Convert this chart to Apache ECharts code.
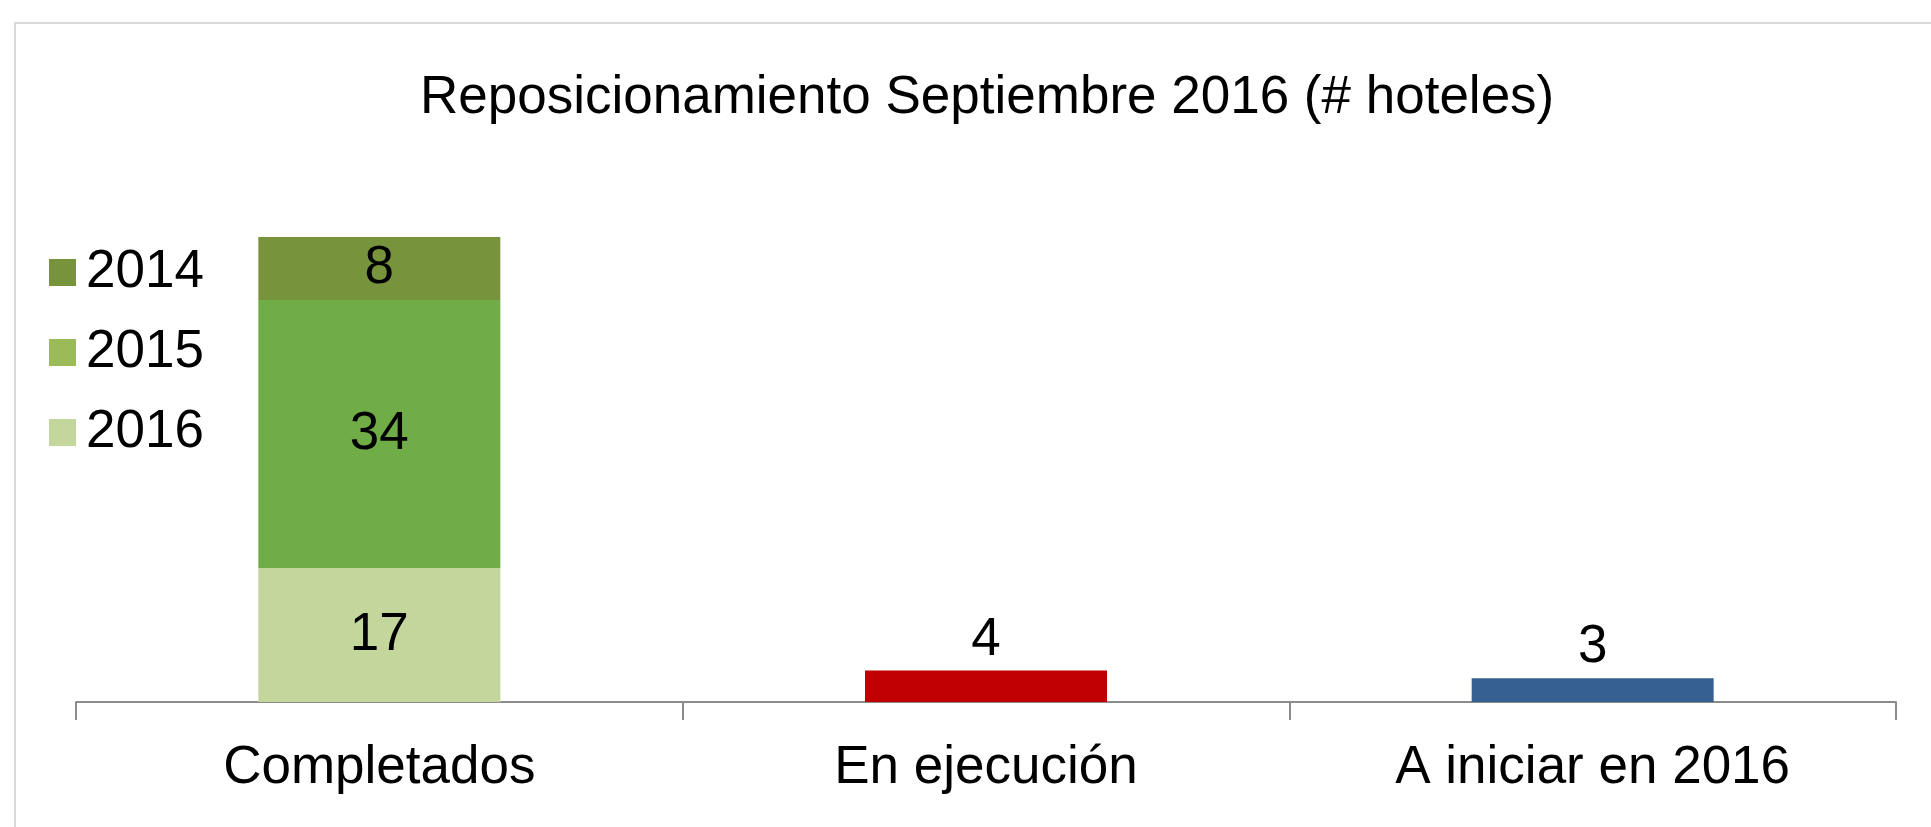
<!DOCTYPE html>
<html>
<head>
<meta charset="utf-8">
<script src="https://cdn.jsdelivr.net/npm/echarts@6/dist/echarts.min.js"></script>
<style>
html, body { margin: 0; padding: 0; background: #fff; }
#container { width: 1931px; height: 827px; }
</style>
</head>
<body>
<div id="container"></div>
<script>
var dom = document.getElementById("container");
var myChart = echarts.init(dom);

// datos
var categorias = ["Completados", "En ejecución", "A iniciar en 2016"];
var anios = ["2014", "2015", "2016"];
var coloresLeyenda = ['#77933c', '#9bbb59', '#c3d69b'];
var datos2016 = [17, '-', '-'];
var datos2015 = [34, '-', '-'];
var datos2014 = [8, '-', '-'];
var otros = ['-', 4, 3];
var coloresOtros = ['#c00000', '#c00000', '#376092'];

var fuente = 'Liberation Sans, Arial, sans-serif';
var tam = 53;

var etiquetaDentro = {
    show: true,
    position: 'inside',
    fontSize: tam,
    fontFamily: fuente,
    color: '#000'
};

var option = {
    animation: false,
    title: {
        text: 'Reposicionamiento Septiembre 2016 (# hoteles)',
        left: 420,
        top: 72,
        padding: 0,
        textStyle: {
            fontSize: tam,
            fontWeight: 'normal',
            fontFamily: fuente,
            color: '#000'
        }
    },
    legend: {
        orient: 'vertical',
        left: 49,
        top: 246,
        padding: 0,
        itemWidth: 27,
        itemHeight: 27,
        itemGap: 27,
        icon: 'rect',
        data: anios.map(function (a, i) {
            return { name: a, itemStyle: { color: coloresLeyenda[i] } };
        }),
        textStyle: {
            fontSize: tam,
            fontFamily: fuente,
            color: '#000',
            padding: [0, 0, 0, 5]
        }
    },
    graphic: [{
        type: 'rect',
        shape: { x: 15, y: 23, width: 2000, height: 1000 },
        style: { fill: 'none', stroke: '#d9d9d9', lineWidth: 2 },
        silent: true
    }],
    grid: {
        left: 76,
        right: 35,
        top: 237,
        bottom: 125
    },
    xAxis: {
        type: 'category',
        data: categorias,
        axisLine: { lineStyle: { color: '#8c8c8c', width: 2 } },
        axisTick: { show: true, length: 18, lineStyle: { color: '#8c8c8c', width: 2 } },
        axisLabel: {
            fontSize: tam,
            fontFamily: fuente,
            color: '#000',
            margin: 40
        }
    },
    yAxis: {
        type: 'value',
        min: 0,
        max: 59,
        show: false,
        splitLine: { show: false }
    },
    series: [
        {
            name: '2016',
            type: 'bar',
            stack: 'total',
            barWidth: 242,
            data: datos2016,
            itemStyle: { color: '#c3d69b' },
            label: etiquetaDentro
        },
        {
            name: '2015',
            type: 'bar',
            stack: 'total',
            data: datos2015,
            itemStyle: { color: '#70ad47' },
            label: etiquetaDentro
        },
        {
            name: '2014',
            type: 'bar',
            stack: 'total',
            data: datos2014,
            itemStyle: { color: '#77933c' },
            label: etiquetaDentro
        },
        {
            name: 'Otros',
            type: 'bar',
            stack: 'total',
            data: otros.map(function (v, i) {
                return { value: v, itemStyle: { color: coloresOtros[i] } };
            }),
            label: {
                show: true,
                position: 'top',
                distance: 4,
                fontSize: tam,
                fontFamily: fuente,
                color: '#000'
            }
        }
    ]
};

if (option && typeof option === "object") {
    myChart.setOption(option, true);
}
</script>
</body>
</html>
